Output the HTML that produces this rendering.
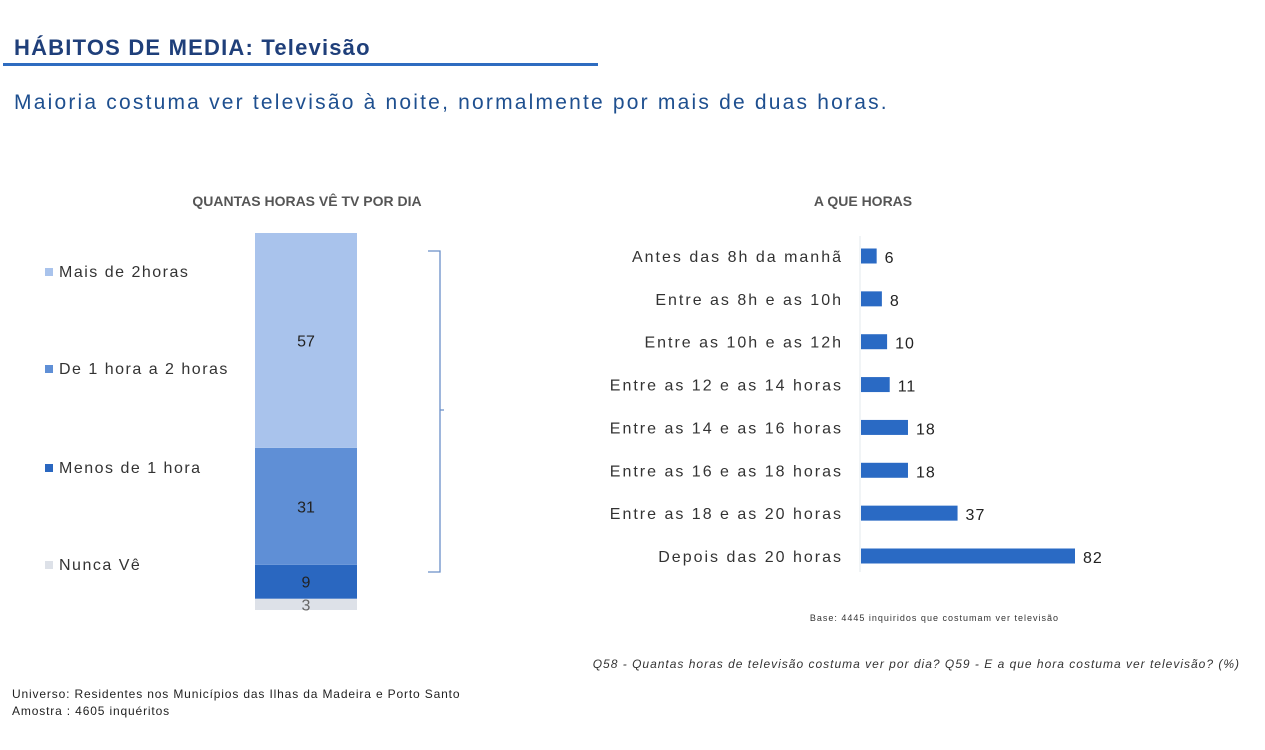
<!DOCTYPE html>
<html><head><meta charset="utf-8"><style>
body{margin:0;width:1265px;height:750px;background:#fff;position:relative;overflow:hidden;font-family:"Liberation Sans","DejaVu Sans",sans-serif;}
.abs{position:absolute;white-space:nowrap;}
</style></head><body>
<div class="abs" style="left:14px;top:35px;font-size:22px;font-weight:bold;color:#1f3f7a;letter-spacing:1.2px;">HÁBITOS DE MEDIA: Televisão</div>
<div class="abs" style="left:3px;top:63px;width:595px;height:3px;background:#2e6cc0;"></div>
<div class="abs" style="left:14px;top:91px;font-size:21px;color:#1e4f8f;letter-spacing:2.2px;">Maioria costuma ver televisão à noite, normalmente por mais de duas horas.</div>
<svg width="1265" height="750" style="position:absolute;left:0;top:0">
<text x="307" y="206" text-anchor="middle" font-size="14" font-weight="bold" fill="#555">QUANTAS HORAS VÊ TV POR DIA</text>
<text x="863" y="206" text-anchor="middle" font-size="14" font-weight="bold" fill="#555">A QUE HORAS</text>
<g id="stack"></g>
<path d="M428 251 H440 V410 L444 410 M440 410 V572 H428" fill="none" stroke="#6a8fc8" stroke-width="1.3"/>
<line x1="860" y1="236" x2="860" y2="572" stroke="#e3e8ee"/>
<g id="bars"></g>
<text x="1059" y="621" text-anchor="end" font-size="9" fill="#333" letter-spacing="1">Base: 4445 inquiridos que costumam ver televisão</text>
<text x="1240" y="668" text-anchor="end" font-size="12" font-style="italic" fill="#333" letter-spacing="1">Q58 - Quantas horas de televisão costuma ver por dia? Q59 - E a que hora costuma ver televisão? (%)</text>
<text x="12" y="698" font-size="12" fill="#222" letter-spacing="0.85">Universo: Residentes nos Municípios das Ilhas da Madeira e Porto Santo</text>
<text x="12" y="715" font-size="12" fill="#222" letter-spacing="0.85">Amostra : 4605 inquéritos</text>
</svg>
<script>
const stackLabels=["Nunca Vê","Menos de 1 hora","De 1 hora a 2 horas","Mais de 2horas"];
const stackValues=[3,9,31,57];
const hourCats=["Antes das 8h da manhã","Entre as 8h e as 10h","Entre as 10h e as 12h","Entre as 12 e as 14 horas","Entre as 14 e as 16 horas","Entre as 16 e as 18 horas","Entre as 18 e as 20 horas","Depois das 20 horas"];
const hourValues=[6,8,10,11,18,18,37,82];
const NS="http://www.w3.org/2000/svg";
function mk(p,t,a){const e=document.createElementNS(NS,t);for(const k in a)e.setAttribute(k,a[k]);p.appendChild(e);return e;}
const colors=["#dde1e8","#2a67c0","#5f8fd6","#a9c3ec"];
const bottom=610, scale=377/100;
const sy=v=>bottom-v*scale;
const sg=document.getElementById('stack');
let acc=0;
const legY=[566,469,370,273];
stackValues.forEach((v,i)=>{
  const r=mk(sg,'rect',{x:255,y:sy(acc+v),width:102,height:v*scale,fill:colors[i]});
  
  
  const t=mk(sg,'text',{x:306,y:sy(acc+v/2)+6,'text-anchor':'middle','font-size':16,fill:i==0?'#666':'#222'});
  t.textContent=v;
  
  
  acc+=v;
  const s=mk(sg,'rect',{x:45,y:legY[i]-5,width:8,height:8,fill:colors[i]});
  
  
  const l=mk(sg,'text',{x:59,y:legY[i]+4,'font-size':16,fill:'#333','letter-spacing':1.5});
  l.textContent=stackLabels[i];
  
  
});
const bg=document.getElementById('bars');
const x0=861, xs=214/82;
const rowY=[256,298,341,383,426,470,514,556];
hourCats.forEach((c,i)=>{
  const y=rowY[0]+i*(rowY[7]-rowY[0])/7;
  const r=mk(bg,'rect',{x:x0,y:y-7.5,width:hourValues[i]*xs,height:15,fill:'#2a6ac4'});
  
  
  const l=mk(bg,'text',{x:843,y:y+6,'text-anchor':'end','font-size':16,fill:'#333','letter-spacing':2});
  l.textContent=c;
  
  
  const v=mk(bg,'text',{x:x0+hourValues[i]*xs+8,y:y+7,'font-size':16,fill:'#222','letter-spacing':1});
  v.textContent=hourValues[i];
  
  
});
</script>
</body></html>
